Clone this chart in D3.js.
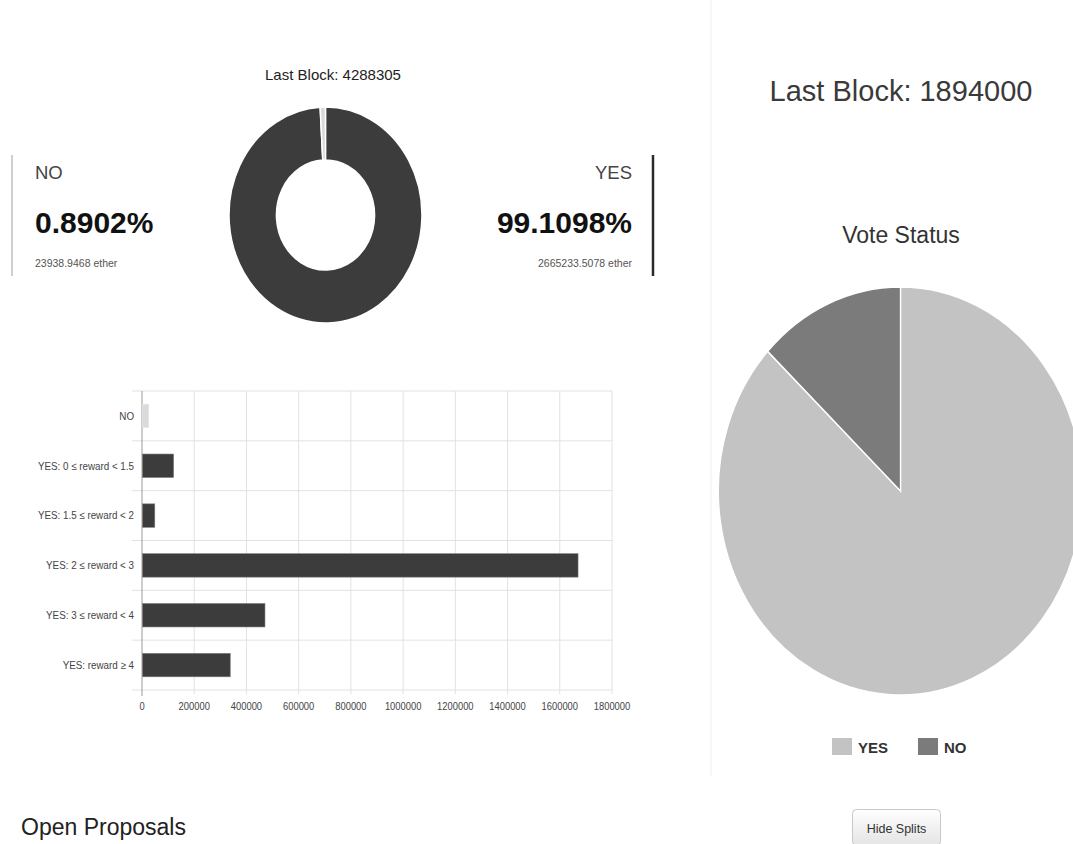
<!DOCTYPE html>
<html>
<head>
<meta charset="utf-8">
<script src="https://cdn.jsdelivr.net/npm/d3@7"></script>
<style>
  html, body { margin: 0; padding: 0; background: #fff; }
  svg { display: block; font-family: "Liberation Sans", Arial, sans-serif; }
</style>
</head>
<body>
<svg id="chart" width="1073" height="844"></svg>
<script>
// ---- data ----
const donutBlock = 4288305;
const voteLabels = ["YES", "NO"];
const voteEther = [2665233.5078, 23938.9468];

const rewardCategories = [
  "NO",
  "YES: 0 \u2264 reward < 1.5",
  "YES: 1.5 \u2264 reward < 2",
  "YES: 2 \u2264 reward < 3",
  "YES: 3 \u2264 reward < 4",
  "YES: reward \u2265 4"
];
const rewardEther = [23938.9468, 119000, 47000, 1668000, 469000, 336000];
const rewardTicks = [0, 200000, 400000, 600000, 800000, 1000000, 1200000, 1400000, 1600000, 1800000];

const statusBlock = 1894000;
const statusLabels = ["YES", "NO"];
const statusShares = [87, 13];

// ---- setup ----
const svg = d3.select("#chart");
const squash = 0.893; // everything is drawn slightly narrower than tall

const darkFill = "#3c3c3c";
const lightFill = "#dadada";
const pieColor = d3.scaleOrdinal().domain(statusLabels).range(["#c3c3c3", "#7b7b7b"]);
const donutColor = d3.scaleOrdinal().domain(voteLabels).range([darkFill, lightFill]);

// ---- donut: share of ether per vote ----
svg.append("text")
  .attr("x", 333).attr("y", 80)
  .attr("text-anchor", "middle")
  .attr("font-size", 15).attr("fill", "#222")
  .text("Last Block: " + donutBlock);

const voteData = voteLabels.map((k, i) => ({ key: k, value: voteEther[i] }));
const donutPie = d3.pie().sort(null).value(d => d.value);
const donutArc = d3.arc().innerRadius(55).outerRadius(108);
const donutG = svg.append("g")
  .attr("transform", `translate(325.5,215) scale(${squash},1)`);
donutG.selectAll("path")
  .data(donutPie(voteData))
  .join("path")
  .attr("d", donutArc)
  .attr("fill", d => donutColor(d.data.key))
  .attr("stroke", "#fff")
  .attr("stroke-width", 1.6);

const total = d3.sum(voteEther);
const pct = v => (v / total * 100).toFixed(4) + "%";

// NO summary (left)
svg.append("line")
  .attr("x1", 12).attr("x2", 12).attr("y1", 155).attr("y2", 276)
  .attr("stroke", "#cfcfcf").attr("stroke-width", 2);
svg.append("text").attr("x", 35).attr("y", 179)
  .attr("font-size", 18.5).attr("fill", "#444").text(voteLabels[1]);
svg.append("text").attr("x", 35).attr("y", 233)
  .attr("font-size", 30).attr("font-weight", "bold").attr("fill", "#111")
  .text(pct(voteEther[1]));
svg.append("text").attr("x", 35).attr("y", 267)
  .attr("font-size", 10.5).attr("fill", "#555")
  .text(voteEther[1].toFixed(4) + " ether");

// YES summary (right)
svg.append("line")
  .attr("x1", 653).attr("x2", 653).attr("y1", 155).attr("y2", 276)
  .attr("stroke", "#2a2a2a").attr("stroke-width", 2.5);
svg.append("text").attr("x", 632).attr("y", 179).attr("text-anchor", "end")
  .attr("font-size", 18.5).attr("fill", "#444").text(voteLabels[0]);
svg.append("text").attr("x", 632).attr("y", 233).attr("text-anchor", "end")
  .attr("font-size", 30).attr("font-weight", "bold").attr("fill", "#111")
  .text(pct(voteEther[0]));
svg.append("text").attr("x", 632).attr("y", 267).attr("text-anchor", "end")
  .attr("font-size", 10.5).attr("fill", "#555")
  .text(voteEther[0].toFixed(4) + " ether");

// ---- horizontal bar chart: ether by reward bucket ----
const x = d3.scaleLinear().domain([0, 1800000]).range([142, 612]);
const y = d3.scaleBand().domain(rewardCategories).range([391, 690])
  .paddingInner(0.53).paddingOuter(0.265);
const step = y.step();
const rowEdges = d3.range(rewardCategories.length + 1).map(i => 391 + i * step);

const grid = svg.append("g");
grid.selectAll("line.v")
  .data(rewardTicks.slice(1))
  .join("line")
  .attr("x1", d => x(d)).attr("x2", d => x(d))
  .attr("y1", 391).attr("y2", 694)
  .attr("stroke", "#e2e2e2");
grid.selectAll("line.h")
  .data(rowEdges)
  .join("line")
  .attr("x1", 132).attr("x2", 612)
  .attr("y1", d => d).attr("y2", d => d)
  .attr("stroke", "#e2e2e2");

svg.append("line")
  .attr("x1", x(0)).attr("x2", x(0)).attr("y1", 391).attr("y2", 696)
  .attr("stroke", "#9a9a9a");

svg.append("g").selectAll("rect")
  .data(rewardCategories.map((c, i) => ({ c, v: rewardEther[i] })))
  .join("rect")
  .attr("x", x(0) + 0.5)
  .attr("y", d => y(d.c))
  .attr("width", d => Math.max(0, x(d.v) - x(0)))
  .attr("height", y.bandwidth())
  .attr("fill", (d, i) => i === 0 ? lightFill : darkFill)
  .attr("stroke", (d, i) => i === 0 ? "#e6e6e6" : "#777")
  .attr("stroke-width", 0.6);

// axis labels are set slightly condensed
svg.append("g").selectAll("text")
  .data(rewardCategories)
  .join("text")
  .attr("transform", d => `translate(134,${y(d) + y.bandwidth() / 2}) scale(${squash},1)`)
  .attr("dy", "0.35em")
  .attr("text-anchor", "end")
  .attr("font-size", 11).attr("fill", "#444")
  .text(d => d);

svg.append("g").selectAll("text")
  .data(rewardTicks)
  .join("text")
  .attr("transform", d => `translate(${x(d)},710) scale(${squash},1)`)
  .attr("text-anchor", "middle")
  .attr("font-size", 10.5).attr("fill", "#444")
  .text(d => d);

// ---- right panel: vote status pie ----
svg.append("line")
  .attr("x1", 711).attr("x2", 711).attr("y1", 0).attr("y2", 776)
  .attr("stroke", "#f1f1f1");

svg.append("text")
  .attr("x", 901).attr("y", 101)
  .attr("text-anchor", "middle")
  .attr("font-size", 29).attr("fill", "#3a3a3a")
  .text("Last Block: " + statusBlock);

svg.append("text")
  .attr("x", 901).attr("y", 243)
  .attr("text-anchor", "middle")
  .attr("font-size", 23).attr("fill", "#333")
  .text("Vote Status");

const statusData = statusLabels.map((k, i) => ({ key: k, value: statusShares[i] }));
const statusPie = d3.pie().sort(null).value(d => d.value);
const statusArc = d3.arc().innerRadius(0).outerRadius(204);
const pieG = svg.append("g")
  .attr("transform", `translate(900.5,491) scale(${squash},1)`);
pieG.selectAll("path")
  .data(statusPie(statusData))
  .join("path")
  .attr("d", statusArc)
  .attr("fill", d => pieColor(d.data.key))
  .attr("stroke", "#fff")
  .attr("stroke-width", 1.5);

// legend
const legendX = [832, 918];
const legend = svg.append("g").selectAll("g")
  .data(statusLabels)
  .join("g")
  .attr("transform", (d, i) => `translate(${legendX[i]},738)`);
legend.append("rect")
  .attr("width", 20).attr("height", 17)
  .attr("fill", d => pieColor(d));
legend.append("text")
  .attr("x", 26).attr("y", 15)
  .attr("font-size", 15).attr("font-weight", "bold").attr("fill", "#333")
  .text(d => d);

// ---- footer ----
svg.append("text")
  .attr("x", 21).attr("y", 835)
  .attr("font-size", 23).attr("fill", "#222")
  .text("Open Proposals");

const defs = svg.append("defs");
const grad = defs.append("linearGradient").attr("id", "btnGrad")
  .attr("x1", 0).attr("x2", 0).attr("y1", 0).attr("y2", 1);
grad.append("stop").attr("offset", "0%").attr("stop-color", "#ffffff");
grad.append("stop").attr("offset", "100%").attr("stop-color", "#e4e4e4");

svg.append("rect")
  .attr("x", 852.5).attr("y", 809.5).attr("width", 88).attr("height", 36)
  .attr("rx", 4)
  .attr("fill", "url(#btnGrad)")
  .attr("stroke", "#c8c8c8");
svg.append("text")
  .attr("x", 896.5).attr("y", 833)
  .attr("text-anchor", "middle")
  .attr("font-size", 12.5).attr("fill", "#333")
  .text("Hide Splits");
</script>
</body>
</html>
